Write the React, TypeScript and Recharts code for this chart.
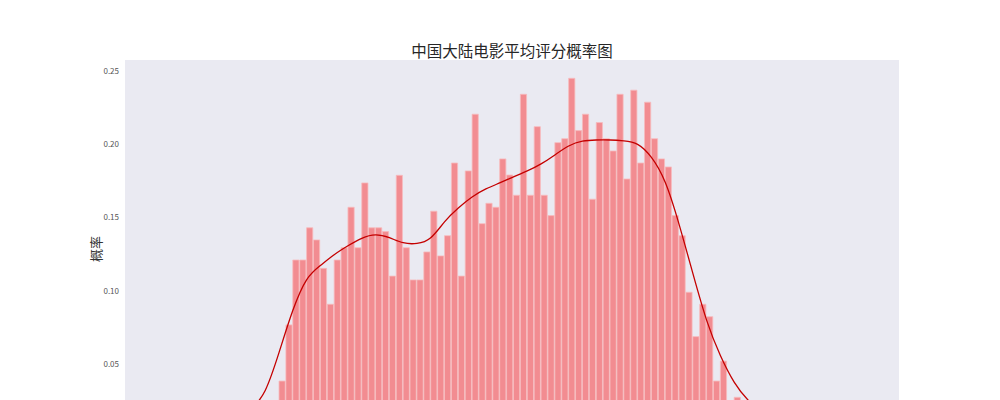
import React from 'react';
import { ComposedChart, Bar, Line, XAxis, YAxis, CartesianGrid } from 'recharts';

// histogram bin centres (average rating) and density heights
const binCenters = [
  2.25, 2.35, 2.45, 2.55, 2.65, 2.75, 2.85, 2.95, 3.05, 3.15,
  3.25, 3.35, 3.45, 3.55, 3.65, 3.75, 3.85, 3.95, 4.05, 4.15,
  4.25, 4.35, 4.45, 4.55, 4.65, 4.75, 4.85, 4.95, 5.05, 5.15,
  5.25, 5.35, 5.45, 5.55, 5.65, 5.75, 5.85, 5.95, 6.05, 6.15,
  6.25, 6.35, 6.45, 6.55, 6.65, 6.75, 6.85, 6.95, 7.05, 7.15,
  7.25, 7.35, 7.45, 7.55, 7.65, 7.75, 7.85, 7.95, 8.05, 8.15,
  8.25, 8.35, 8.45, 8.55, 8.65, 8.75, 8.85,
];
const binDensity = [
  0.0384, 0.0767, 0.121, 0.121, 0.143, 0.1347, 0.1153, 0.0908, 0.121, 0.1294,
  0.157, 0.1294, 0.1736, 0.143, 0.143, 0.1404, 0.110, 0.1788, 0.1294, 0.1074,
  0.1074, 0.1265, 0.1543, 0.1238, 0.1376, 0.1872, 0.110, 0.1818, 0.2205, 0.1458,
  0.1597, 0.157, 0.19, 0.179, 0.1652, 0.2341, 0.1652, 0.212, 0.1652, 0.1513,
  0.2011, 0.2038, 0.245, 0.2093, 0.2205, 0.1625, 0.2148, 0.2038, 0.1954, 0.2341,
  0.1763, 0.2369, 0.1872, 0.2287, 0.2038, 0.19, 0.1845, 0.1513, 0.1376, 0.099,
  0.0687, 0.0908, 0.0823, 0.0384, 0.052, 0.014, 0.0273,
];

// kernel density estimate curve
const kdeX = [
  1.0, 1.2, 1.4, 1.6, 1.8, 2.0, 2.2, 2.4, 2.6, 2.8,
  3.0, 3.2, 3.4, 3.6, 3.8, 4.0, 4.2, 4.4, 4.6, 4.8,
  5.0, 5.2, 5.4, 5.6, 5.8, 6.0, 6.2, 6.4, 6.6, 6.8,
  7.0, 7.2, 7.4, 7.6, 7.8, 8.0, 8.2, 8.4, 8.6, 8.8,
  9.0, 9.2, 9.4, 9.6, 9.8, 10.0, 10.2,
];
const kdeY = [
  0.0005, 0.002, 0.005, 0.01, 0.019, 0.032, 0.0578, 0.0865, 0.1075, 0.1173,
  0.1246, 0.1307, 0.1358, 0.1381, 0.1362, 0.1328, 0.1323, 0.1362, 0.147, 0.1565,
  0.164, 0.1695, 0.1736, 0.1777, 0.1818, 0.1866, 0.1927, 0.1988, 0.2021, 0.2029,
  0.2029, 0.2023, 0.1999, 0.191, 0.174, 0.1455, 0.112, 0.080, 0.0558, 0.0377,
  0.0255, 0.017, 0.010, 0.005, 0.002, 0.001, 0.0003,
];

const yTicks = [0.05, 0.1, 0.15, 0.2, 0.25];

const title = '中国大陆电影平均评分概率图';
const yLabel = '概率';

const histData = binCenters.map((x, i) => ({ x, density: binDensity[i] }));
const kdeData = kdeX.map((x, i) => ({ x, kde: kdeY[i] }));

const CJK = '"Noto Sans CJK SC", "Noto Sans", sans-serif';
const X_DOMAIN: [number, number] = [-0.033, 11.19];

export default function App() {
  return (
    <div
      style={{
        position: 'absolute',
        left: 0,
        top: 0,
        width: 1000,
        height: 400,
        overflow: 'hidden',
        background: '#ffffff',
      }}
    >
      <div
        style={{
          position: 'absolute',
          left: 0,
          width: 1024,
          top: 39,
          textAlign: 'center',
          fontFamily: CJK,
          fontSize: 15.5,
          color: '#262626',
          lineHeight: '22px',
        }}
      >
        {title}
      </div>
      <ComposedChart
        width={1000}
        height={480}
        data={histData}
        margin={{ top: 60, right: 101, bottom: 42.7, left: 85 }}
        barCategoryGap={0}
        barGap={0}
      >
        <CartesianGrid fill="#EAEAF2" stroke="none" horizontal={false} vertical={false} />
        <XAxis
          xAxisId="bins"
          dataKey="x"
          type="number"
          domain={X_DOMAIN}
          allowDataOverflow
          hide
        />
        <XAxis
          xAxisId="kde"
          dataKey="x"
          type="number"
          domain={X_DOMAIN}
          allowDataOverflow
          hide
        />
        <YAxis
          width={40}
          domain={[0, 0.2575]}
          ticks={yTicks}
          allowDataOverflow
          axisLine={false}
          tickLine={false}
          tickSize={0}
          tickMargin={6}
          tickFormatter={(v: number) => v.toFixed(2)}
          tick={{ fontSize: 8, fill: '#555555', fontFamily: CJK }}
          label={() => (
            <text
              x={95}
              y={249}
              transform="rotate(-90 95 249)"
              textAnchor="middle"
              dominantBaseline="central"
              fontSize={13}
              fontFamily={CJK}
              fill="#333333"
            >
              {yLabel}
            </text>
          )}
        />
        <Bar
          xAxisId="bins"
          dataKey="density"
          barSize={6.9}
          fill="#F28C91"
          stroke="#F7BBBE"
          strokeWidth={0.8}
          isAnimationActive={false}
        />
        <Line
          xAxisId="kde"
          data={kdeData}
          dataKey="kde"
          type="natural"
          stroke="#C40000"
          strokeWidth={1.3}
          dot={false}
          activeDot={false}
          isAnimationActive={false}
        />
      </ComposedChart>
    </div>
  );
}
